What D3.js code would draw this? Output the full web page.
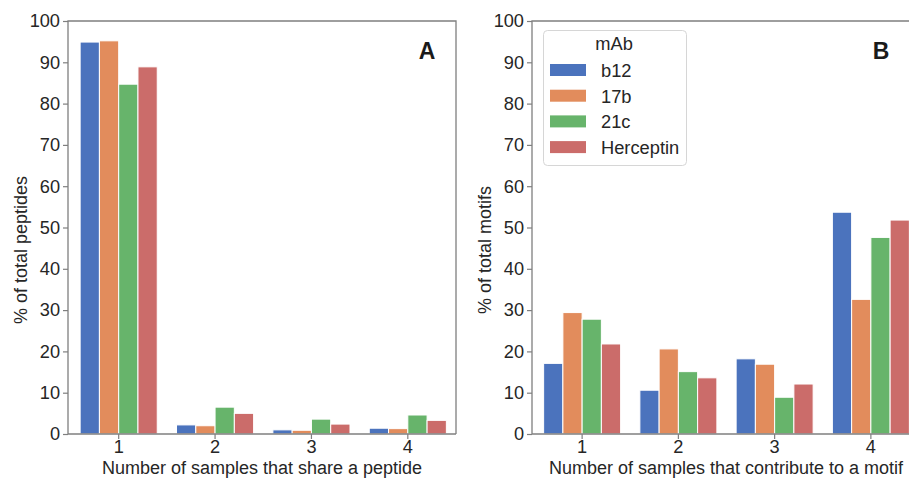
<!DOCTYPE html>
<html>
<head>
<meta charset="utf-8">
<script src="https://cdn.jsdelivr.net/npm/d3@7"></script>
<style>
  body { margin: 0; background: #fff; }
  svg { display: block; font-family: "Liberation Sans", Arial, sans-serif; }
  .tick text { font-size: 18.2px; fill: #262626; }
  .tick line { stroke: #7f7f7f; stroke-width: 1.2; }
  .label-text { font-size: 18px; fill: #262626; }
  .legend-text { font-size: 18.3px; fill: #262626; }
  .panel-text { font-size: 23px; font-weight: bold; fill: #1a1a1a; }
</style>
</head>
<body>
<script>
var width = 909,
    height = 478;

var groups = ["1", "2", "3", "4"];
var mabs = ["b12", "17b", "21c", "Herceptin"];
var colors = ["#4b73bd", "#e28c5c", "#67b46b", "#cb6c6a"];
var yTicks = [0, 10, 20, 30, 40, 50, 60, 70, 80, 90, 100];

// % of total peptides, one array per mAb, indexed by group
var peptidesB12 = [94.9, 2.2, 1.0, 1.4];
var peptides17b = [95.2, 2.0, 0.9, 1.3];
var peptides21c = [84.7, 6.5, 3.6, 4.6];
var peptidesHerceptin = [88.9, 5.0, 2.4, 3.3];

// % of total motifs
var motifsB12 = [17.1, 10.6, 18.2, 53.7];
var motifs17b = [29.4, 20.6, 16.9, 32.6];
var motifs21c = [27.8, 15.1, 8.9, 47.6];
var motifsHerceptin = [21.8, 13.6, 12.1, 51.8];

var svg = d3.select("body").append("svg")
    .attr("width", width)
    .attr("height", height);

var y = d3.scaleLinear()
    .domain([0, 100])
    .range([434, 21]);

function drawPanel(opts) {
    var series = opts.series;
    var g = svg.append("g");

    var x = d3.scaleBand()
        .domain(groups)
        .range([opts.bandLeft, opts.bandRight]);

    var rows = [];
    groups.forEach(function(grp, gi) {
        mabs.forEach(function(m, mi) {
            rows.push({group: grp, mab: m, idx: mi, value: series[mi][gi]});
        });
    });

    g.selectAll(".bar")
        .data(rows)
        .enter()
        .append("rect")
        .attr("class", "bar")
        .attr("x", function(d) {
            // inner bars take 80% of the band
            return x(d.group) + x.bandwidth() * 0.1 + d.idx * x.bandwidth() * 0.2;
        })
        .attr("y", function(d) { return y(d.value); })
        .attr("width", x.bandwidth() * 0.2)
        .attr("height", function(d) { return y(0) - y(d.value); })
        .attr("fill", function(d) { return colors[d.idx]; })
        .attr("stroke", "#ffffff")
        .attr("stroke-width", 1);

    var xAxis = d3.axisBottom(x)
        .tickSize(5)
        .tickPadding(1);

    var yAxis = d3.axisLeft(y)
        .tickValues(yTicks)
        .tickSize(5)
        .tickPadding(3);

    var xg = g.append("g")
        .attr("transform", "translate(0," + y(0) + ")")
        .call(xAxis);
    xg.select(".domain").remove();

    var yg = g.append("g")
        .attr("transform", "translate(" + opts.spineLeft + ",0)")
        .call(yAxis);
    yg.select(".domain").remove();

    // spines
    g.append("path")
        .attr("d", "M" + opts.spineLeft + "," + y(0) +
            "V" + y(100) + "H" + opts.spineRight + "V" + y(0))
        .attr("fill", "none")
        .attr("stroke", "#7f7f7f")
        .attr("stroke-width", 1.3);
    g.append("line")
        .attr("x1", opts.spineLeft)
        .attr("x2", opts.spineRight)
        .attr("y1", y(0))
        .attr("y2", y(0))
        .attr("stroke", "#7f7f7f")
        .attr("stroke-width", 1.3);

    g.append("text")
        .attr("class", "label-text")
        .attr("x", (opts.spineLeft + opts.spineRight) / 2)
        .attr("y", 473.5)
        .attr("text-anchor", "middle")
        .text(opts.xTitle);

    g.append("text")
        .attr("class", "label-text")
        .attr("transform", "translate(" + opts.yTitleX + ",250) rotate(-90)")
        .attr("text-anchor", "middle")
        .text(opts.yTitle);

    g.append("text")
        .attr("class", "panel-text")
        .attr("x", opts.letterX)
        .attr("y", 59)
        .attr("text-anchor", "middle")
        .text(opts.letter);
}

drawPanel({
    series: [peptidesB12, peptides17b, peptides21c, peptidesHerceptin],
    bandLeft: 70.5, bandRight: 456,
    spineLeft: 68, spineRight: 456,
    xTitle: "Number of samples that share a peptide",
    yTitle: "% of total peptides",
    yTitleX: 27,
    letter: "A", letterX: 427
});

drawPanel({
    series: [motifsB12, motifs17b, motifs21c, motifsHerceptin],
    bandLeft: 534, bandRight: 919,
    spineLeft: 532, spineRight: 920,
    xTitle: "Number of samples that contribute to a motif",
    yTitle: "% of total motifs",
    yTitleX: 491,
    letter: "B", letterX: 881
});

// legend
var legend = svg.append("g");

legend.append("rect")
    .attr("x", 543.5)
    .attr("y", 30.5)
    .attr("width", 143)
    .attr("height", 135)
    .attr("rx", 4)
    .attr("ry", 4)
    .attr("fill", "#ffffff")
    .attr("fill-opacity", 0.8)
    .attr("stroke", "#d6d6d6")
    .attr("stroke-width", 1);

legend.append("text")
    .attr("class", "legend-text")
    .attr("x", 614)
    .attr("y", 50)
    .attr("text-anchor", "middle")
    .text("mAb");

var legendItems = legend.selectAll(".legend-item")
    .data(mabs)
    .enter()
    .append("g")
    .attr("class", "legend-item")
    .attr("transform", function(d, i) { return "translate(0," + (70 + i * 25.7) + ")"; });

legendItems.append("rect")
    .attr("x", 550)
    .attr("y", -6)
    .attr("width", 36)
    .attr("height", 12)
    .attr("fill", function(d, i) { return colors[i]; });

legendItems.append("text")
    .attr("class", "legend-text")
    .attr("x", 601)
    .attr("y", 7)
    .text(function(d) { return d; });
</script>
</body>
</html>
